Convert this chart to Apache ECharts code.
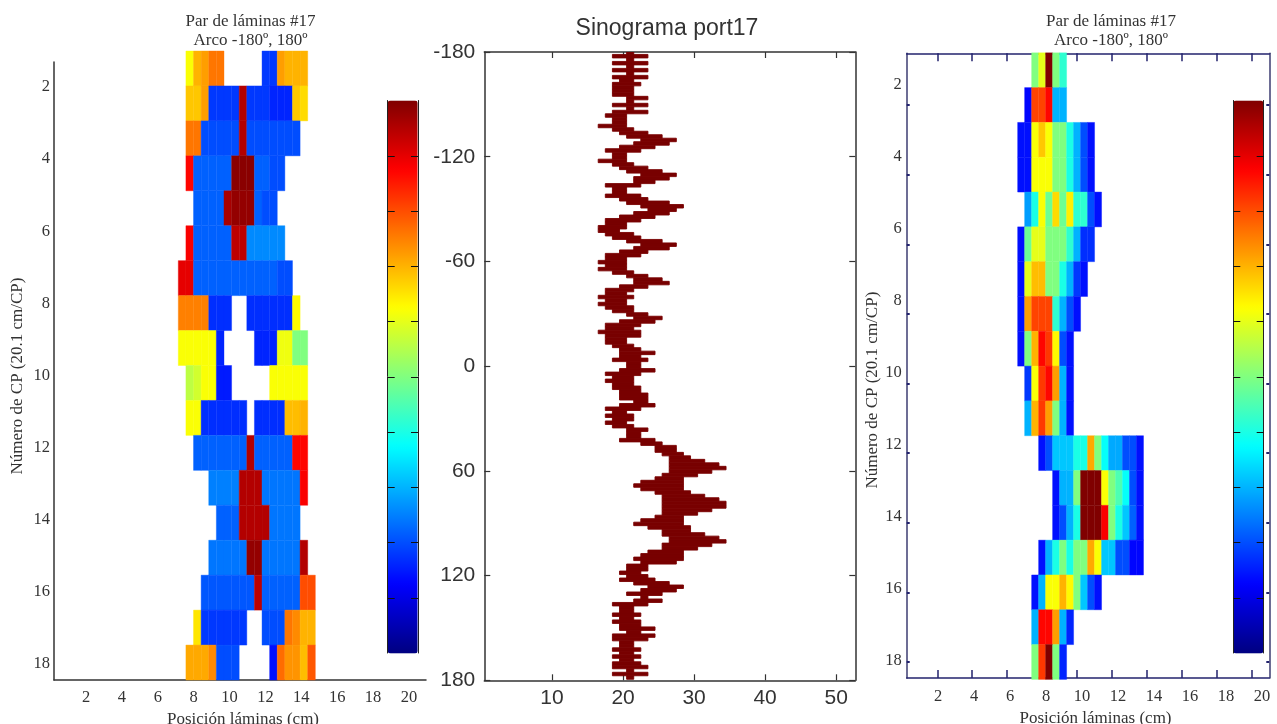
<!DOCTYPE html>
<html><head><meta charset="utf-8">
<style>html,body{margin:0;padding:0;background:#fff}#c{width:1277px;height:724px}</style>
<script src="https://cdn.jsdelivr.net/npm/echarts@6/dist/echarts.min.js"></script>
</head><body><div id="c"></div>
<script>
const _ = null;
const cpTicks = [2,4,6,8,10,12,14,16,18];
const posTicks = [2,4,6,8,10,12,14,16,18,20];
const angleTicks = [-180,-120,-60,0,60,120,180];
const sinoPosTicks = [10,20,30,40,50];
const jetStops = ['#000080','#0000ff','#0080ff','#00ffff','#80ff80','#ffff00','#ff8000','#ff0000','#800000'];

// Leaf-pair fluence levels (0-100 colour scale); each row is one control point, each entry one 0.4 cm column.
const leftColStart = 7.0, rightColStart = 6.6, colWidth = 0.4;
const leftFluence = [
 [_,62,70,72,76,76,_,_,_,_,_,18,18,72,70,70,70,_],
 [_,68,68,72,18,18,18,18,95,18,18,18,16,16,16,68,66,_],
 [_,76,76,20,20,20,20,20,95,20,20,20,20,20,20,20,_,_],
 [_,87,22,22,22,22,22,99,99,99,22,22,20,20,_,_,_,_],
 [_,_,22,22,22,22,96,98,98,98,22,20,20,_,_,_,_,_],
 [_,88,22,22,22,22,22,94,94,26,26,26,26,26,_,_,_,_],
 [90,90,22,22,22,22,22,22,22,22,22,22,22,20,20,_,_,_],
 [75,75,75,75,17,17,17,_,_,17,17,17,17,17,17,63,_,_],
 [62,62,62,62,62,16,_,_,_,_,16,16,16,61,61,50,50,_],
 [_,56,58,62,62,15,15,_,_,_,_,_,62,62,62,62,62,_],
 [_,62,62,17,17,17,17,17,17,_,17,17,17,17,69,69,70,_],
 [_,_,22,22,22,22,22,22,22,95,22,22,22,22,22,87,87,_],
 [_,_,_,_,25,25,25,25,95,95,95,24,24,24,24,24,88,_],
 [_,_,_,_,_,22,22,22,95,95,95,95,24,24,24,24,_,_],
 [_,_,_,_,24,24,24,24,24,98,98,24,24,24,24,24,95,_],
 [_,_,_,21,21,21,21,21,21,21,94,22,22,22,22,22,80,80],
 [_,_,65,18,18,18,18,18,18,_,_,20,20,20,76,74,70,70],
 [_,71,71,71,74,20,20,20,_,_,_,_,14,77,73,73,69,79]
];
const rightFluence = [
 [_,_,50,60,100,50,42],
 [_,13,81,81,87,30,30],
 [14,14,62,68,62,50,50,40,30,20,14],
 [14,14,62,62,62,50,50,40,30,20,14],
 [_,28,40,62,48,66,48,64,42,42,20,14],
 [14,48,60,60,50,50,50,42,30,17,17],
 [14,60,69,69,50,50,40,30,18,14],
 [14,72,81,81,81,42,30,20,14],
 [14,50,70,87,82,63,20,14],
 [_,18,62,82,87,72,30,14],
 [_,30,70,82,72,50,30,14],
 [_,_,_,14,20,32,32,32,40,40,71,50,38,29,29,20,20,14],
 [_,_,_,_,_,14,30,30,50,100,100,100,62,50,45,38,20,14],
 [_,_,_,_,_,14,20,30,40,100,100,100,88,50,40,32,22,14],
 [_,_,_,14,30,40,50,40,50,50,71,62,32,32,20,20,13,13],
 [_,_,14,30,62,62,70,63,50,32,20,14],
 [_,_,30,87,87,72,30,16],
 [_,_,50,82,100,50,16]
];

// Sinogram: for every 2 degree row, the lower and upper edge column (edge = value + 0.5).
const sinoFirstAngle = -179.6, sinoStep = 2;
const sinoLow = [20,
 18,20,18,20,18,20,18,19,18,18,18,18,20,20,18,20,18,17,18,18,
 16,18,19,20,22,21,19,17,18,18,16,18,19,20,22,21,21,17,18,18,
 17,19,20,22,23,21,19,17,17,16,16,17,18,20,22,21,19,17,17,16,
 17,16,18,20,21,21,19,17,17,16,17,16,17,18,20,21,19,17,17,16,
 17,17,17,18,19,19,19,18,20,20,19,17,18,17,18,18,19,19,19,21,
 19,17,18,17,18,17,18,20,20,20,19,22,24,24,25,26,26,26,26,26,
 25,24,22,21,22,24,25,25,25,25,25,25,24,22,21,23,25,25,26,26,
 25,25,23,22,21,22,20,20,19,20,19,21,23,22,20,22,21,18,19,19,
 18,19,18,19,19,20,18,18,19,19,18,19,18,19,18,18,20,18,20];
const sinoHigh = [21,
 23,21,23,21,23,21,23,21,22,21,21,21,23,21,23,21,23,20,20,20,
 20,21,23,25,27,26,24,22,20,20,20,21,23,25,27,26,24,22,20,20,
 22,23,26,28,27,26,24,22,20,20,19,21,22,25,27,26,23,22,20,20,
 20,20,21,23,25,26,23,21,20,21,20,20,21,21,23,25,24,22,21,22,
 22,20,20,21,22,24,22,23,22,22,24,22,21,21,21,22,22,23,23,23,
 24,22,20,21,21,20,21,23,22,22,24,25,27,27,28,29,31,33,34,32,
 30,28,28,28,28,29,31,33,34,34,32,30,28,28,28,29,29,31,33,34,
 32,30,28,28,28,27,23,23,22,23,24,26,28,27,25,23,25,23,21,21,
 22,21,22,22,24,22,24,23,21,21,22,21,22,21,22,23,21,23,21];

function cellData(rows, start) {
  const out = [];
  rows.forEach((row, r) => row.forEach((v, k) => {
    if (v !== null) out.push([start + colWidth * k, start + colWidth * (k + 1), r + 1, v]);
  }));
  return out;
}
const sinoData = sinoLow.map((lo, j) => [lo + 0.5, sinoHigh[j] + 0.5, sinoFirstAngle + sinoStep * j]);

function renderCell(params, api) {
  const a = api.coord([api.value(0), api.value(2) - 0.5]);
  const b = api.coord([api.value(1), api.value(2) + 0.5]);
  const fill = api.visual('color');
  return { type: 'rect', shape: { x: a[0], y: a[1], width: b[0] - a[0], height: b[1] - a[1] },
           style: { fill: fill, stroke: fill, lineWidth: 0.4 } };
}
function renderSino(params, api) {
  const half = sinoStep / 2;
  const a = api.coord([api.value(0), api.value(2) - half]);
  const b = api.coord([api.value(1), api.value(2) + half]);
  return { type: 'rect', shape: { x: a[0], y: a[1], width: b[0] - a[0], height: b[1] - a[1] },
           style: { fill: '#780000', stroke: '#780000', lineWidth: 0.9 } };
}

const serif = '"Liberation Serif","DejaVu Serif",serif';
const sans = '"Liberation Sans",Arial,sans-serif';
const W = 1277, H = 724;
const box = (l, r, t, b) => ({ left: l, right: W - r, top: t, bottom: H - b, containLabel: false, outerBoundsMode: 'none' });
const dark = '#333';
const navy = '#23236e';
const hidden = (gridIndex, min, max) => ({ type: 'value', gridIndex, min, max, show: false });
const serifLabel = { color: '#333', fontFamily: serif, fontSize: 16.5 };
const barAxis = (gridIndex, position) => ({ type: 'value', gridIndex, position, min: 0, max: 10, inverse: true,
  splitNumber: 10, z: 10, axisLabel: { show: false }, splitLine: { show: false },
  axisLine: { show: true, lineStyle: { color: '#222', width: 1 } },
  axisTick: { show: true, inside: true, length: 7, lineStyle: { color: '#111', width: 1 },
    customValues: [1,2,3,4,5,6,7,8,9] } });
const navyX = (position) => ({ type: 'value', gridIndex: 4, position, min: 0.25, max: 21,
  axisLabel: { show: false }, splitLine: { show: false },
  axisLine: { show: true, onZero: false, lineStyle: { color: navy, width: 1.5 } },
  axisTick: { show: true, inside: true, length: 8, lineStyle: { color: navy, width: 1.5 }, customValues: posTicks } });
const navyY = (position) => ({ type: 'value', gridIndex: 4, position, min: 0.514, max: 18.46, inverse: true,
  axisLabel: { show: false }, splitLine: { show: false },
  axisLine: { show: true, onZero: false, lineStyle: { color: '#3d3d72', width: 1.5 } },
  axisTick: { show: true, inside: true, length: 3, lineStyle: { color: navy, width: 2 }, customValues: cpTicks } });
const sinoX = (position, labels) => ({ type: 'value', gridIndex: 3, position, min: 0.46, max: 52.7,
  splitLine: { show: false },
  axisLine: { show: true, onZero: false, lineStyle: { color: dark, width: 1.5 } },
  axisTick: { show: true, inside: true, length: 6, lineStyle: { color: dark, width: 1.2 }, customValues: sinoPosTicks },
  axisLabel: labels ? { color: '#333', fontFamily: sans, fontSize: 21, margin: 7, customValues: sinoPosTicks } : { show: false } });
const sinoY = (position, labels) => ({ type: 'value', gridIndex: 3, position, min: -180, max: 180, inverse: true,
  splitLine: { show: false },
  axisLine: { show: true, onZero: false, lineStyle: { color: dark, width: 1.5 } },
  axisTick: { show: true, inside: true, length: 6, lineStyle: { color: dark, width: 1.2 }, customValues: angleTicks },
  axisLabel: labels ? { color: '#333', fontFamily: sans, fontSize: 21, margin: 9, customValues: angleTicks } : { show: false } });
const titleStyle = { color: '#333', fontFamily: serif, fontSize: 17, fontWeight: 'normal', lineHeight: 19 };
const legend = (left, seriesIndex) => ({ type: 'continuous', min: 0, max: 100, dimension: 3, seriesIndex,
  left, top: 100.5, padding: 0, itemWidth: 30, itemHeight: 553, calculable: false, showLabel: false, text: null,
  hoverLink: false, z: 1, inRange: { color: jetStops } });

const option = {
  animation: false,
  backgroundColor: '#fff',
  title: [
    { text: 'Par de láminas #17\nArco -180º, 180º', left: 250.5, top: 12.5, padding: 0, textAlign: 'center', textStyle: titleStyle },
    { text: 'Sinograma port17', left: 667, top: 17, padding: 0, textAlign: 'center',
      textStyle: { color: '#333', fontFamily: sans, fontSize: 23, fontWeight: 'normal' } },
    { text: 'Par de láminas #17\nArco -180º, 180º', left: 1111, top: 12.5, padding: 0, textAlign: 'center', textStyle: titleStyle }
  ],
  grid: [
    box(54, 426, 51, 680),
    box(54, 426, 62, 680),
    box(387.7, 418, 100.5, 653),
    box(484.3, 855.3, 52, 680.3),
    box(906.7, 1269.3, 53.3, 678),
    box(906.7, 1269.3, 53.3, 678),
    box(1233.3, 1263.7, 100.5, 653)
  ],
  xAxis: [
    hidden(0, 0.468, 20.016),
    { type: 'value', gridIndex: 1, position: 'bottom', min: 0.216, max: 20.948, splitLine: { show: false },
      axisLine: { show: true, onZero: false, lineStyle: { color: dark, width: 1.5 } }, axisTick: { show: false },
      axisLabel: Object.assign({ margin: 9, customValues: posTicks }, serifLabel),
      name: 'Posición láminas (cm)', nameLocation: 'middle', nameGap: 28,
      nameTextStyle: { color: '#333', fontFamily: serif, fontSize: 17, padding: [0, 0, 0, 6] } },
    hidden(2, 0, 1),
    sinoX('bottom', true), sinoX('top', false),
    navyX('bottom'), navyX('top'),
    { type: 'value', gridIndex: 5, position: 'bottom', min: 0.261, max: 20.4, splitLine: { show: false },
      axisLine: { show: false }, axisTick: { show: false },
      axisLabel: Object.assign({ margin: 10, customValues: posTicks }, serifLabel),
      name: 'Posición láminas (cm)', nameLocation: 'middle', nameGap: 27,
      nameTextStyle: { color: '#333', fontFamily: serif, fontSize: 17, padding: [0, 0, 0, 15] } },
    hidden(6, 0, 1)
  ],
  yAxis: [
    Object.assign(hidden(0, 0.5, 18.5), { inverse: true }),
    { type: 'value', gridIndex: 1, position: 'left', min: 1.307, max: 18.444, inverse: true, splitLine: { show: false },
      axisLine: { show: true, onZero: false, lineStyle: { color: dark, width: 1.5 } }, axisTick: { show: false },
      axisLabel: Object.assign({ margin: 4, customValues: cpTicks }, serifLabel),
      name: 'Número de CP (20.1 cm/CP)', nameLocation: 'middle', nameGap: 28, nameRotate: 90,
      nameTextStyle: { color: '#333', fontFamily: serif, fontSize: 17, padding: [0, 10, 0, 0] } },
    barAxis(2, 'left'), barAxis(2, 'right'),
    sinoY('left', true), sinoY('right', false),
    navyY('left'), navyY('right'),
    { type: 'value', gridIndex: 5, position: 'left', min: 1.119, max: 18.472, inverse: true, splitLine: { show: false },
      axisLine: { show: false }, axisTick: { show: false },
      axisLabel: Object.assign({ margin: 5, customValues: cpTicks }, serifLabel),
      name: 'Número de CP (20.1 cm/CP)', nameLocation: 'middle', nameGap: 23, nameRotate: 90,
      nameTextStyle: { color: '#333', fontFamily: serif, fontSize: 17, padding: [0, 49, 0, 0] } },
    barAxis(6, 'left'), barAxis(6, 'right')
  ],
  visualMap: [legend(387.7, 0), legend(1233.3, 2)],
  series: [
    { type: 'custom', xAxisIndex: 0, yAxisIndex: 0, renderItem: renderCell, data: cellData(leftFluence, leftColStart),
      encode: { x: [0, 1], y: 2 }, silent: true },
    { type: 'custom', xAxisIndex: 3, yAxisIndex: 4, renderItem: renderSino, data: sinoData, clip: true,
      encode: { x: [0, 1], y: 2 }, silent: true },
    { type: 'custom', xAxisIndex: 5, yAxisIndex: 6, renderItem: renderCell, data: cellData(rightFluence, rightColStart),
      encode: { x: [0, 1], y: 2 }, silent: true, z: 1 }
  ]
};
echarts.init(document.getElementById('c'), null, { renderer: 'canvas' }).setOption(option);
</script></body></html>
